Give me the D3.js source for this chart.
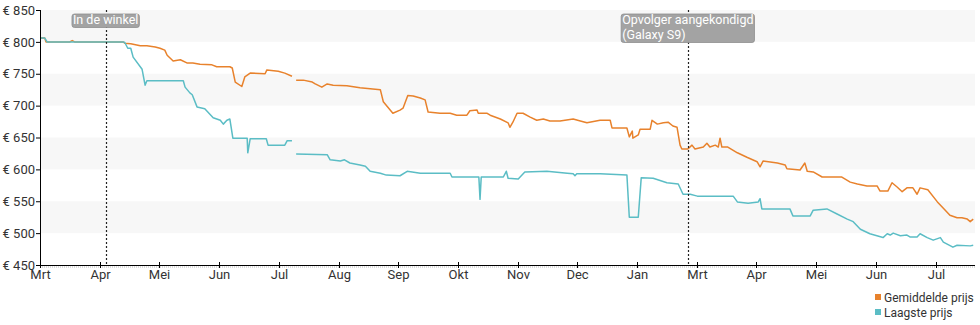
<!DOCTYPE html>
<html><head><meta charset="utf-8">
<script src="https://cdn.jsdelivr.net/npm/d3@7"></script>
<style>
html,body{margin:0;padding:0;background:#fff;}
svg{display:block;font-family:Roboto,"Noto Sans",sans-serif;}
</style></head>
<body>
<svg id="chart" width="980" height="325"></svg>
<script>
// ---- data (x in months since start of March, y in euro) ----
const monthLabels = ["Mrt","Apr","Mei","Jun","Jul","Aug","Sep","Okt","Nov","Dec","Jan","Mrt","Apr","Mei","Jun","Jul"];
const yTicks = [450,500,550,600,650,700,750,800,850];
const seriesNames = ["Gemiddelde prijs","Laagste prijs"];
const seriesColors = ["#e8822c","#5bbdc5"];

const avgPrice = [[0,806],[0.08,806],[0.10,800],[0.50,800],[0.54,802],[0.58,800],[1.39,800],[1.42,798],[1.52,797],[1.68,794],[1.79,794],[1.93,792],[2.01,790],[2.09,787],[2.13,779],[2.23,770],[2.35,772],[2.46,767],[2.56,767],[2.68,765],[2.88,764],[2.96,761],[3.18,761],[3.22,759],[3.27,737],[3.38,730],[3.43,745],[3.52,751],[3.77,750],[3.80,756],[3.99,754],[4.10,751],[4.22,746],null,[4.29,740],[4.41,740],[4.56,737],[4.61,734],[4.72,729],[4.81,734],[4.91,732],[5.14,731],[5.36,728],[5.70,725],[5.75,706],[5.91,688],[6.03,693],[6.08,696],[6.16,716],[6.25,715],[6.37,712],[6.45,709],[6.50,690],[6.70,688],[6.87,688],[6.98,685],[7.15,685],[7.20,692],[7.32,693],[7.34,688],[7.49,688],[7.54,685],[7.71,679],[7.84,673],[7.87,666],[7.92,674],[7.99,688],[8.09,688],[8.21,682],[8.32,677],[8.43,679],[8.54,676],[8.71,676],[8.93,679],[9.05,676],[9.16,673],[9.38,677],[9.55,677],[9.58,665],[9.83,665],[9.87,651],[9.92,660],[9.93,649],[10.02,654],[10.05,663],[10.22,663],[10.25,677],[10.34,671],[10.44,673],[10.52,674],[10.60,668],[10.67,666],[10.72,638],[10.75,632],[10.85,632],[10.92,638],[10.97,632],[11.11,635],[11.17,641],[11.22,635],[11.31,638],[11.36,635],[11.39,649],[11.42,635],[11.52,635],[11.68,626],[11.84,619],[12.01,612],[12.06,604],[12.11,613],[12.35,610],[12.48,607],[12.51,601],[12.73,599],[12.81,610],[12.85,597],[12.95,596],[13.10,588],[13.23,588],[13.43,588],[13.57,580],[13.69,577],[13.85,574],[14.02,574],[14.07,566],[14.20,566],[14.27,579],[14.36,572],[14.44,565],[14.52,571],[14.62,571],[14.69,561],[14.74,571],[14.87,568],[15.03,549],[15.13,539],[15.24,528],[15.36,524],[15.44,524],[15.53,522],[15.58,518],[15.63,522]];

const lowPrice = [[0,806],[0.08,806],[0.12,800],[1.39,800],[1.42,799],[1.47,790],[1.52,790],[1.56,776],[1.71,757],[1.76,732],[1.79,739],[2.40,739],[2.43,729],[2.51,720],[2.55,717],[2.63,698],[2.76,695],[2.90,681],[3.02,677],[3.07,671],[3.13,677],[3.18,679],[3.23,649],[3.47,649],[3.48,626],[3.52,648],[3.79,648],[3.82,638],[4.10,638],[4.14,645],[4.22,645],null,[4.29,624],[4.81,623],[4.86,615],[5.03,613],[5.10,615],[5.19,610],[5.36,607],[5.45,605],[5.53,597],[5.70,594],[5.80,591],[6.03,590],[6.15,597],[6.37,594],[6.87,594],[6.90,588],[7.35,588],[7.37,553],[7.39,588],[7.76,588],[7.81,597],[7.84,586],[8.01,585],[8.12,596],[8.49,597],[8.83,594],[8.93,593],[8.96,590],[8.99,593],[9.38,593],[9.83,591],[9.87,525],[10.02,525],[10.07,587],[10.27,586],[10.50,579],[10.69,577],[10.77,561],[10.89,561],[11.01,558],[11.11,558],[11.61,558],[11.68,549],[11.86,547],[12.03,549],[12.06,554],[12.09,538],[12.56,538],[12.61,527],[12.90,527],[12.95,536],[13.18,538],[13.35,530],[13.52,522],[13.62,518],[13.74,506],[13.90,499],[14.12,493],[14.19,499],[14.24,497],[14.29,500],[14.41,496],[14.52,497],[14.57,494],[14.69,494],[14.74,499],[14.86,493],[14.96,489],[15.08,493],[15.13,486],[15.29,478],[15.36,481],[15.58,480],[15.63,481]];

const events = [
  {x:1.10, lines:["In de winkel"]},
  {x:10.85, lines:["Opvolger aangekondigd","(Galaxy S9)"]}
];
const xMax = 15.66;

// ---- layout ----
const svg = d3.select("#chart");
const L = 40, R = 975, T = 10, B = 265;
const x = d3.scaleLinear().domain([0, xMax]).range([L, R]);
const y = d3.scaleLinear().domain([450, 850]).range([B, T]);

// stripes
const bands = [[800,850],[700,750],[600,650],[500,550]];
svg.append("g").selectAll("rect").data(bands).join("rect")
  .attr("x", L).attr("width", R - L)
  .attr("y", d => y(d[1])).attr("height", d => y(d[0]) - y(d[1]))
  .attr("fill", "#f7f7f7");

// lines
const line = d3.line().defined(d => d !== null).x(d => x(d[0])).y(d => y(d[1]));
[avgPrice, lowPrice].forEach((data, i) => {
  svg.append("path").datum(data).attr("d", line)
    .attr("fill", "none").attr("stroke", seriesColors[i])
    .attr("stroke-width", 1.5).attr("stroke-linejoin", "round");
});

// event lines
const ev = svg.append("g");
events.forEach(e => {
  ev.append("line").attr("x1", Math.round(x(e.x)) + 0.5).attr("x2", Math.round(x(e.x)) + 0.5)
    .attr("y1", T).attr("y2", B)
    .attr("stroke", "#222").attr("stroke-width", 1.2).attr("stroke-dasharray", "2,2");
});

// y axis
const yAxis = d3.axisLeft(y).tickValues(yTicks).tickSize(4).tickFormat(d => "€ " + d);
const gy = svg.append("g").attr("transform", `translate(${L},0)`).call(yAxis);
gy.select(".domain").attr("stroke", "#000").attr("d", `M0.5,${T}V${B}`);
gy.selectAll(".tick line").attr("stroke", "#000");
gy.selectAll("text").attr("font-size", 13).attr("fill", "#333").attr("x", -5)
  .attr("font-family", "Roboto");

// x axis
const gx = svg.append("g").attr("transform", `translate(0,${B})`);
gx.append("line").attr("x1", L).attr("x2", R).attr("y1", 0.5).attr("y2", 0.5).attr("stroke", "#000");
gx.append("line").attr("x1", L).attr("x2", R).attr("y1", 2).attr("y2", 2)
  .attr("stroke", "#bbb").attr("stroke-dasharray", "1,1");
const xt = gx.selectAll("g.t").data(monthLabels).join("g").attr("class", "t")
  .attr("transform", (d, i) => `translate(${Math.round(x(i)) + 0.5},0)`);
xt.append("line").attr("y1", -3).attr("y2", 3).attr("stroke", "#000");
xt.append("text").text(d => d).attr("y", 14).attr("text-anchor", "middle")
  .attr("font-size", 13).attr("fill", "#333");

// event labels
events.forEach(e => {
  const g = svg.append("g");
  const cx = x(e.x);
  const texts = e.lines.map((t, i) => g.append("text").text(t)
    .attr("font-size", 12.5).attr("fill", "#fff").attr("y", 24 + i * 15));
  let w = d3.max(texts, t => t.node().getComputedTextLength());
  const bx = cx - w / 2 - 1;
  texts.forEach(t => t.attr("x", bx + 1));
  g.insert("rect", "text").attr("x", bx).attr("y", 14).attr("width", w + 2)
    .attr("height", 13 + (e.lines.length - 1) * 15 + 0.5).attr("rx", 2.5)
    .attr("fill", "#a3a3a3").attr("stroke", "#8e8e8e").attr("stroke-width", 0.8);
});

// legend
const lg = svg.append("g").attr("transform", "translate(875,0)");
seriesNames.forEach((n, i) => {
  lg.append("rect").attr("x", 0).attr("y", 294 + i * 15).attr("width", 6).attr("height", 6)
    .attr("fill", seriesColors[i]);
  lg.append("text").text(n).attr("x", 9).attr("y", 301.5 + i * 15)
    .attr("font-size", 12).attr("fill", "#333");
});
</script>
</body></html>
